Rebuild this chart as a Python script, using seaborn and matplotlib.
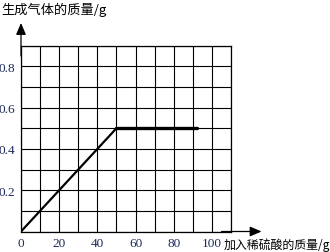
import matplotlib
matplotlib.use("Agg")
import matplotlib.pyplot as plt
import seaborn as sns
import numpy as np
import pandas as pd

# data
acid_mass = [0, 50, 92]
gas_mass = [0, 0.5, 0.5]
x_ticks = [0, 20, 40, 60, 80, 100]
y_ticks = [0.2, 0.4, 0.6, 0.8]
y_title = "生成气体的质量/g"
x_title = "加入稀硫酸的质量/g"

sns.set_theme(style="white")
plt.rcParams['font.family'] = ['Noto Sans CJK SC', 'DejaVu Sans']

fig = plt.figure(figsize=(3.3, 2.53), dpi=100)
W, H = 330, 253
x0, x1 = 21, 231
y0, y1 = 232.5, 46.7
ax = fig.add_axes([x0 / W, (H - y0) / H, (x1 - x0) / W, (y0 - y1) / H])

df = pd.DataFrame({"x": acid_mass, "y": gas_mass})
sns.lineplot(data=df.iloc[:2], x="x", y="y", ax=ax, color="black", lw=1.6)
sns.lineplot(data=df.iloc[1:], x="x", y="y", ax=ax, color="black", lw=2.4)

ax.set_xlim(0, 110)
ax.set_ylim(0, 0.9)
ax.set_xticks(np.arange(0, 111, 10), minor=True)
ax.set_yticks(np.arange(0, 0.91, 0.1), minor=True)
ax.set_xticks(x_ticks)
ax.set_yticks(y_ticks)
ax.set_xticklabels([str(v) for v in x_ticks])
ax.set_yticklabels([f"{v:.1f}" for v in y_ticks])
ax.grid(which="both", color="black", lw=0.8)
ax.set_xlabel("")
ax.set_ylabel("")
tick_color = "#1c2a5c"
ax.tick_params(axis="both", which="major", length=3, width=0.8, color="black",
               pad=1, labelcolor=tick_color, labelsize=9.5)
ax.tick_params(axis="x", which="major", length=0, pad=4)
ax.tick_params(which="minor", length=0)
for lab in ax.get_xticklabels() + ax.get_yticklabels():
    lab.set_fontfamily("Liberation Serif")
for s in ax.spines.values():
    s.set_color("black")
    s.set_linewidth(0.9)

# axis arrows
ax.annotate("", xy=(0, 1.01), xytext=(0, 0.85), xycoords="data",
            arrowprops=dict(arrowstyle="-|>,head_length=0.7,head_width=0.3",
                            color="black", lw=0.9,
                            mutation_scale=10, shrinkA=0, shrinkB=0),
            annotation_clip=False)
ax.annotate("", xy=(126, 0), xytext=(105, 0), xycoords="data",
            arrowprops=dict(arrowstyle="-|>,head_length=0.7,head_width=0.3",
                            color="black", lw=0.9,
                            mutation_scale=10, shrinkA=0, shrinkB=0),
            annotation_clip=False)

fig.text(1 / W, 1 - 10 / H, y_title, fontsize=9.5, va="center", ha="left", color="black")
fig.text(224 / W, 1 - 245 / H, x_title, fontsize=8.6, va="center", ha="left", color="black")

fig.savefig("out.png", dpi=100)
